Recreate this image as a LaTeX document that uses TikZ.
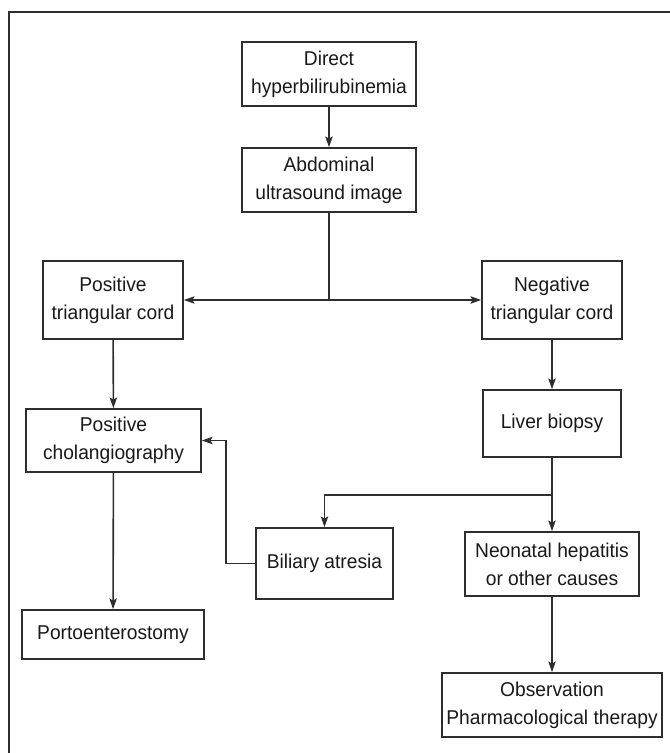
\documentclass[tikz,border=0pt]{standalone}
\usepackage{fontspec}
\setmainfont{Liberation Sans}[FakeStretch=0.96]
\usepackage{tikz}
\usetikzlibrary{arrows.meta}
\definecolor{inkgray}{HTML}{2E2E2E}

\begin{document}
\begin{tikzpicture}[x=0.75pt, y=-0.75pt,
  stage/.style 2 args={draw=inkgray, line width=1.2pt, align=center, inner sep=0pt,
    minimum width=#1*0.75pt, minimum height=#2*0.75pt,
    font=\fontsize{15}{21}\selectfont, text=black!90},
  flow/.style={draw=inkgray, line width=1.2pt, -{Stealth[length=8pt, width=5.5pt, inset=1.5pt]}}]
\useasboundingbox (0,0) rectangle (670,753);

% frame
\draw[inkgray, line width=1.2pt] (9,753) -- (9,12) -- (670,12);

% nodes
\node[stage={174}{64}] (direct) at (329,74) {Direct\\hyperbilirubinemia};
\node[stage={174}{64}] (abdom) at (329,180) {Abdominal\\ultrasound image};
\node[stage={140}{78}] (postri) at (113,300) {Positive\\triangular cord};
\node[stage={140}{78}] (negtri) at (552,300) {Negative\\triangular cord};
\node[stage={138}{67}] (biopsy) at (552,423.5) {Liver biopsy};
\node[stage={175}{63}] (poschol) at (113.5,440.5) {Positive\\cholangiography};
\node[stage={137}{71}] (atresia) at (324.5,563.5) {Biliary atresia};
\node[stage={174}{64}] (hepat) at (552,564) {Neonatal hepatitis\\or other causes};
\node[stage={182}{49}] (porto) at (113,634.5) {Portoenterostomy};
\node[stage={220}{64}] (observ) at (552,705) {Observation\\Pharmacological therapy};

% connectors
\draw[flow] (direct) -- (abdom);
\draw[flow] (abdom.south) |- (postri.east);
\draw[flow] (abdom.south) |- (negtri.west);
\draw[flow] (postri) -- (poschol);
\draw[flow] (negtri) -- (biopsy);
\draw[flow] (biopsy) -- (hepat);
\draw[flow] (biopsy.south) -- ++(0,37) -| (atresia.north);
\draw[flow] (atresia.west) -- ++(-29,0) |- (poschol.east);
\draw[flow] (poschol) -- (porto);
\draw[flow] (hepat) -- (observ);
\end{tikzpicture}
\end{document}
